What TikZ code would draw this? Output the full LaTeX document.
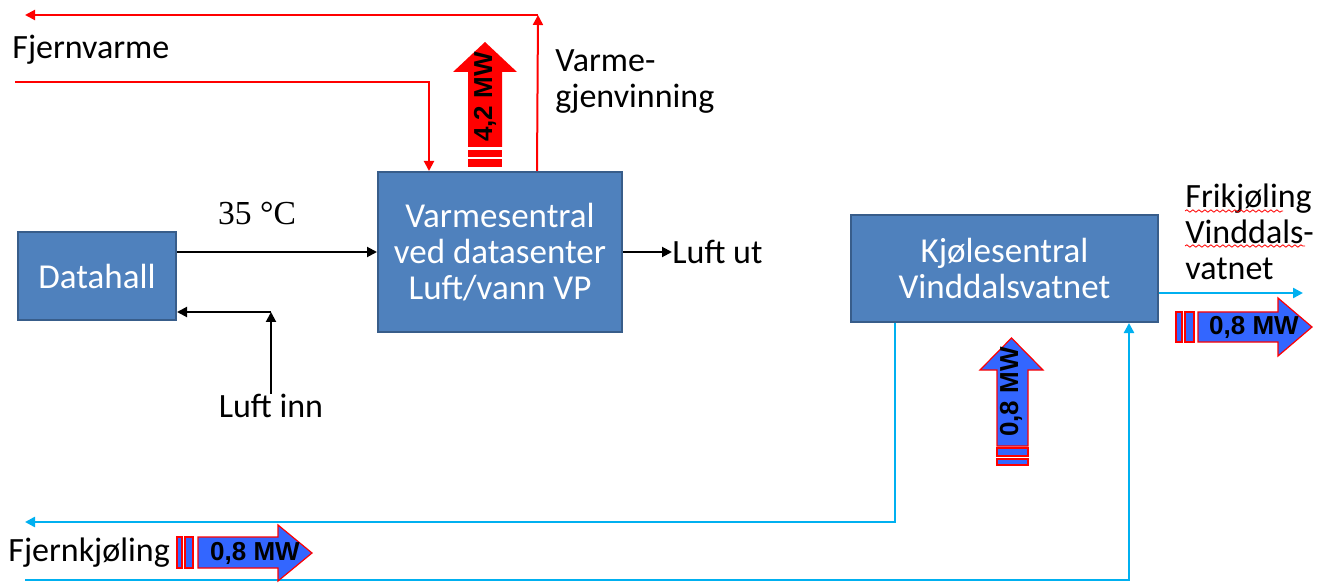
\documentclass[tikz,border=0pt]{standalone}
\usepackage{fontspec}
\setmainfont{Carlito}
\newfontfamily\mwfont{Liberation Sans}
\newfontfamily\tempfont{Liberation Serif}
\usetikzlibrary{arrows.meta,positioning,calc,decorations.pathmorphing}

\definecolor{boxblue}{RGB}{79,129,189}
\definecolor{boxborder}{RGB}{56,93,138}
\definecolor{fatblue}{RGB}{51,102,255}
\definecolor{coolline}{RGB}{0,176,240}

\begin{document}
\begin{tikzpicture}[x=0.5pt, y=-0.5pt,
    unit/.style={rectangle, draw=boxborder, line width=1pt, fill=boxblue, text=white, align=center, inner sep=0pt, font=\fontsize{17.5}{18}\selectfont},
    lbl/.style={inner sep=0pt, align=left, font=\fontsize{17}{18}\selectfont},
    air/.style={-{Triangle[length=5pt,width=5pt]}, line width=1pt},
    heat/.style={-{Triangle[length=5pt,width=5pt]}, red, line width=1pt},
    cool/.style={-{Triangle[length=5pt,width=5pt]}, coolline, line width=1.2pt},
    fatcold/.style={fill=fatblue, draw=red, line width=0.6pt},
    mw/.style={inner sep=0pt, font=\mwfont\bfseries\fontsize{13}{14}\selectfont},
    spell/.style={red, line width=0.4pt, decorate, decoration={snake, amplitude=0.6pt, segment length=3pt}}
]
    \useasboundingbox (0,0) rectangle (1330,583);

    % Boxes
    \node[unit, minimum width=79pt, minimum height=44pt] (datahall) at (97,276) {Datahall};
    \node[unit, minimum width=122pt, minimum height=80pt] (varme) at (500,252) {Varmesentral\\ved datasenter\\Luft/vann VP};
    \node[unit, minimum width=153.5pt, minimum height=53.5pt] (kjole) at (1004.5,268.5) {Kjølesentral\\Vinddalsvatnet};

    % Labels
    \node[lbl, anchor=west] (fjernvarme) at (12,50) {Fjernvarme};
    \node[lbl, anchor=west] (gjenvinning) at (555,82) {Varme-\\gjenvinning};
    \node[lbl, font=\tempfont\fontsize{16.8}{18}\selectfont] (temp) at (257,213) {35 °C};
    \node[lbl, anchor=west] (luftut) at (672,252) {Luft ut};
    \node[lbl] (luftinn) at (271,406) {Luft inn};
    \node[lbl, anchor=west] (frikjoling) at (1185,232) {Frikjøling\\Vinddals-\\vatnet};
    \node[lbl, anchor=west] (fjernkjoling) at (8,553) {Fjernkjøling};
    \draw[spell] (1185,211) -- (1283,211);
    \draw[spell] (1185,246) -- (1305,246);

    % Air
    \coordinate (inn) at (271,312);
    \draw[air] (datahall.east |- varme.west) -- (varme.west);
    \draw[air] (varme.east) -- (luftut.west);
    \draw[air] (luftinn.north) -- (inn);
    \draw[air] (inn) -- (inn -| datahall.east);

    % Fjernvarme
    \coordinate (fvin) at (15,82);
    \coordinate (vin) at ($(varme.north west)+(52,0)$);
    \coordinate (vout) at ($(varme.north west)+(160,0)$);
    \coordinate (topturn) at (538,15);
    \coordinate (fvout) at (25,15);
    \draw[heat] (fvin) -| (vin);
    \draw[heat] (vout) -- (topturn);
    \draw[heat] (topturn) -- (fvout);

    % Fjernkjøling
    \coordinate (kout) at ($(kjole.south west)+(45,0)$);
    \coordinate (fkout) at (25,522);
    \coordinate (fkin) at (25,580);
    \coordinate (kin) at ($(kjole.south east)+(-30,0)$);
    \coordinate (frik) at (1303,293);
    \draw[cool] (kout) |- (fkout);
    \draw[cool] (fkin) -| (kin);
    \draw[cool] (frik -| kjole.east) -- (frik);

    % Effect arrows
    \fill[red] (468,147) -- (468,72) -- (453,72) -- (485,42) -- (517,72) -- (502,72) -- (502,147) -- cycle;
    \fill[red] (468,150) rectangle (502,157);
    \fill[red] (468,159) rectangle (502,167);
    \node[mw, rotate=90] (mwheat) at (485,97) {4,2 MW};

    \filldraw[fatcold] (997,446) -- (997,370) -- (980,370) -- (1011.5,338) -- (1043,370) -- (1028,370) -- (1028,446) -- cycle;
    \filldraw[fatcold] (997,448) rectangle (1028,456);
    \filldraw[fatcold] (997,459) rectangle (1028,465);
    \node[mw, rotate=90] (mwcool) at (1011,392) {0,8 MW};

    \filldraw[fatcold] (1198,312) -- (1278,312) -- (1278,298) -- (1312,327) -- (1278,356) -- (1278,342) -- (1198,342) -- cycle;
    \filldraw[fatcold] (1176,312) rectangle (1182,342);
    \filldraw[fatcold] (1185,312) rectangle (1194,342);
    \node[mw] (mwfrik) at (1254,327) {0,8 MW};

    \filldraw[fatcold] (198,537) -- (278,537) -- (278,525) -- (312,553) -- (278,581) -- (278,568) -- (198,568) -- cycle;
    \filldraw[fatcold] (177,537) rectangle (182,568);
    \filldraw[fatcold] (185,537) rectangle (193,568);
    \node[mw] (mwfjern) at (255,553) {0,8 MW};

\end{tikzpicture}
\end{document}
